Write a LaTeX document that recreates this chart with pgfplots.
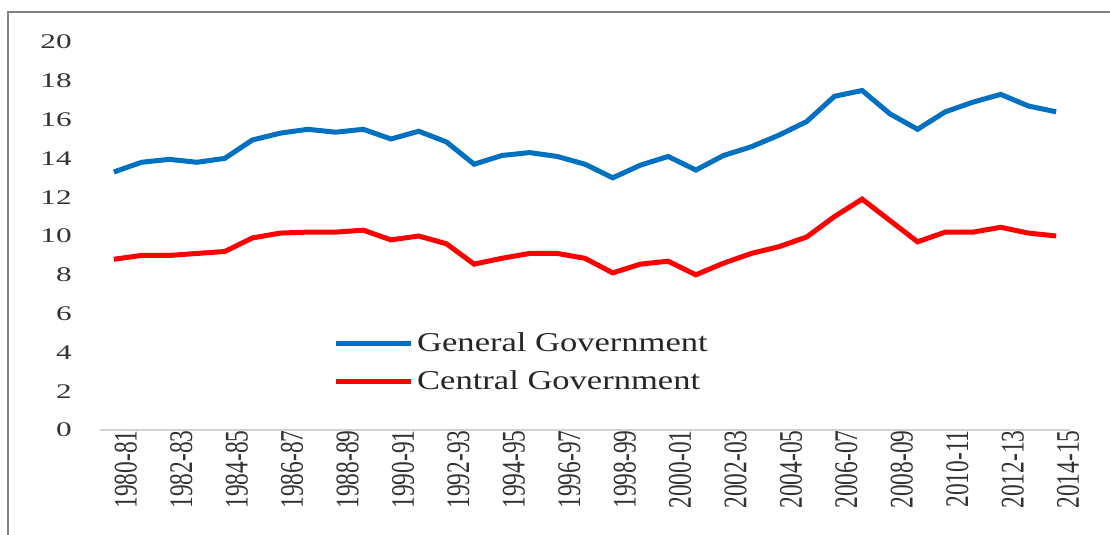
\documentclass[border=0pt]{standalone}
\usepackage{pgfplots}
\pgfplotsset{compat=1.18}
\usepackage{fontspec}
\setmainfont{Liberation Serif}
\newfontfamily\yfont[FakeStretch=1.5]{Liberation Serif}
\newfontfamily\xfont[FakeStretch=0.71]{Liberation Serif}
\newfontfamily\legfont[FakeStretch=1.27]{Liberation Serif}
\newcommand\xlabfont{\xfont\fontsize{16.5pt}{16.5pt}\selectfont}
\definecolor{gblue}{RGB}{0,112,192}
\definecolor{cred}{RGB}{255,0,0}
\definecolor{txt}{RGB}{50,50,50}
\definecolor{axgray}{RGB}{210,210,210}
\definecolor{frame}{RGB}{130,130,130}
\begin{document}
\begin{tikzpicture}
\useasboundingbox (-50pt,-52.5pt) rectangle (505pt,215pt);
\draw[frame, line width=1pt] (-46pt,-53pt) -- (-46pt,209pt) -- (506pt,209pt);
\begin{axis}[
  at={(6.93pt,0pt)}, anchor=origin,
  scale only axis,
  width=485pt, height=194pt,
  xmin=-0.5, xmax=34.5,
  ymin=0, ymax=20,
  axis x line*=bottom,
  axis y line=none,
  x axis line style={axgray, line width=0.8pt, -},
  xtick={0,2,...,34},
  xticklabels={1980-81,1982-83,1984-85,1986-87,1988-89,1990-91,1992-93,1994-95,1996-97,1998-99,2000-01,2002-03,2004-05,2006-07,2008-09,2010-11,2012-13,2014-15},
  xtick style={draw=none},
  major tick length=0pt,
  xticklabel style={font=\xlabfont, text=txt, rotate=90, anchor=east, inner sep=0pt, yshift=-6pt},
  /pgf/number format/assume math mode=true,
  clip=false,
  legend style={at={(0.24,0.173)}, anchor=west, draw=none, fill=none, font=\legfont\fontsize{13.6pt}{13.6pt}\selectfont, text=black!85, inner sep=0pt, row sep=4pt, /tikz/every even column/.append style={column sep=0pt}},
  legend cell align=left,
  legend image code/.code={\draw[#1, line width=2.5pt] (0pt,0pt) -- (37.5pt,0pt);},
]
\addplot[gblue, line width=2.5pt] coordinates {
(0,13.3) (1,13.8) (2,13.95) (3,13.8) (4,14.0) (5,14.95) (6,15.3) (7,15.5) (8,15.35) (9,15.5)
(10,15.0) (11,15.4) (12,14.85) (13,13.7) (14,14.15) (15,14.3) (16,14.1) (17,13.7) (18,13.0) (19,13.65)
(20,14.1) (21,13.4) (22,14.15) (23,14.6) (24,15.2) (25,15.9) (26,17.2) (27,17.5) (28,16.3) (29,15.5)
(30,16.4) (31,16.9) (32,17.3) (33,16.7) (34,16.4)
};
\addlegendentry{General Government}
\addplot[cred, line width=2.5pt] coordinates {
(0,8.8) (1,9.0) (2,9.0) (3,9.1) (4,9.2) (5,9.9) (6,10.15) (7,10.2) (8,10.2) (9,10.3)
(10,9.8) (11,10.0) (12,9.6) (13,8.55) (14,8.85) (15,9.1) (16,9.1) (17,8.85) (18,8.1) (19,8.55)
(20,8.7) (21,8.0) (22,8.6) (23,9.1) (24,9.45) (25,9.95) (26,11.0) (27,11.9) (28,10.8) (29,9.7)
(30,10.2) (31,10.2) (32,10.45) (33,10.15) (34,10.0)
};
\addlegendentry{Central Government}
\pgfplotsinvokeforeach{0,2,...,20}{
  \node[font=\yfont\fontsize{10.4pt}{10.4pt}\selectfont, text=txt, anchor=east, inner sep=0pt] at (axis cs:-0.5,#1) [xshift=-14pt] {#1};
}
\end{axis}
\end{tikzpicture}
\end{document}
